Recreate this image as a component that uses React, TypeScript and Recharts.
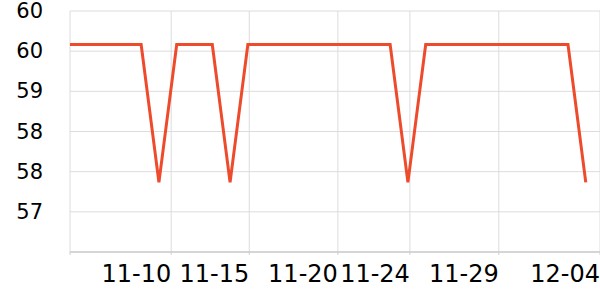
import { LineChart, Line, XAxis, YAxis, CartesianGrid } from "recharts";

// daily closes, 11-05 .. 12-04
const dates = [
  "11-05", "11-06", "11-07", "11-08", "11-09", "11-10", "11-11", "11-12", "11-13", "11-14",
  "11-15", "11-16", "11-17", "11-18", "11-19", "11-20", "11-21", "11-22", "11-23", "11-24",
  "11-25", "11-26", "11-27", "11-28", "11-29", "11-30", "12-01", "12-02", "12-03", "12-04",
];
const prices = [
  59.7, 59.7, 59.7, 59.7, 59.7, 57.64, 59.7, 59.7, 59.7, 57.64,
  59.7, 59.7, 59.7, 59.7, 59.7, 59.7, 59.7, 59.7, 59.7, 57.64,
  59.7, 59.7, 59.7, 59.7, 59.7, 59.7, 59.7, 59.7, 59.7, 57.64,
];

const xTicks = [0, 5.69, 10.08, 15.06, 19.11, 24.11, 29.8];
const xTickLabels = ["", "11-10", "11-15", "11-20", "11-24", "11-29", "12-04"];
const yTicks = [56.6, 57.2, 57.8, 58.4, 59.0, 59.6, 60.2];

const data = dates.map((d, i) => ({ idx: i, date: d, price: prices[i] }));

const FONT = "DejaVu Sans, sans-serif";

const XTick = (props: any) => {
  const { x, y, payload } = props;
  const i = xTicks.indexOf(payload.value);
  const label = i >= 0 ? xTickLabels[i] : "";
  if (!label) return null;
  return (
    <text x={x} y={y} dy={25} textAnchor="end" fontSize={24} fontFamily={FONT} fill="#000">
      {label}
    </text>
  );
};

const YTick = (props: any) => {
  const { x, y, payload } = props;
  if (payload.value === yTicks[0]) return null;
  return (
    <text x={x} y={y} dy={7} textAnchor="end" fontSize={21} fontFamily={FONT} fill="#000">
      {Math.round(payload.value)}
    </text>
  );
};

export default function App() {
  return (
    <div style={{ position: "absolute", left: 0, top: 0, width: 600, height: 300, background: "#fff" }}>
      <LineChart width={600} height={300} data={data} margin={{ top: 11, right: 0, bottom: 0, left: 0 }}>
        <CartesianGrid stroke="#dcdcdc" strokeWidth={1} />
        <XAxis
          dataKey="idx"
          type="number"
          domain={[0, 29.8]}
          ticks={xTicks}
          interval={0}
          tick={<XTick />}
          axisLine={{ stroke: "#bdbdbd" }}
          tickLine={{ stroke: "#cfcfcf" }}
          tickSize={3}
          tickMargin={2}
          height={48}
          allowDataOverflow
        />
        <YAxis
          type="number"
          domain={[56.6, 60.2]}
          ticks={yTicks}
          interval={0}
          tick={<YTick />}
          axisLine={false}
          tickLine={false}
          tickSize={0}
          tickMargin={27}
          width={70}
          allowDataOverflow
        />
        <Line
          type="linear"
          dataKey="price"
          stroke="#ee4a2c"
          strokeWidth={3}
          dot={false}
          isAnimationActive={false}
        />
      </LineChart>
    </div>
  );
}
